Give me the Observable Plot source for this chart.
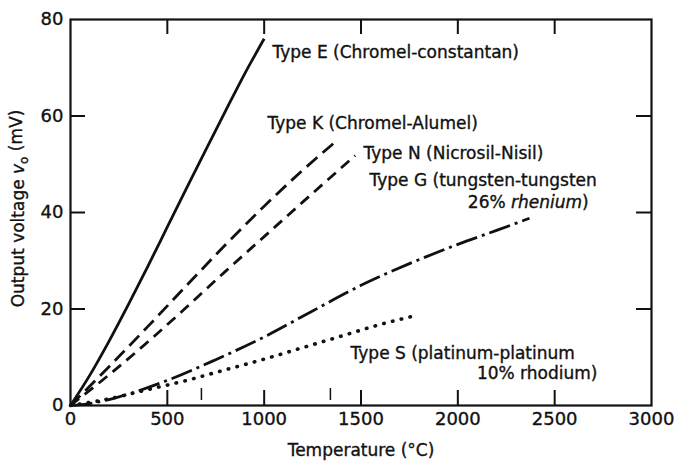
<!DOCTYPE html>
<html><head><meta charset="utf-8">
<script src="https://cdn.jsdelivr.net/npm/d3@7"></script>
<script src="https://cdn.jsdelivr.net/npm/@observablehq/plot@0.6"></script>
<style>body{margin:0;background:#fff} svg{display:block} svg text{stroke:#111;stroke-width:0.35px}</style>
</head><body><div id="chart"></div>
<script>
// Temperatures (°C) and output voltages (mV)
const typeE_T = [0, 100, 200, 300, 400, 500, 600, 700, 800, 900, 1000];
const typeE_V = [0, 6.3, 13.4, 21.0, 28.9, 37.0, 45.1, 53.1, 61.0, 68.8, 76.0];
const typeK_T = [0, 200, 400, 600, 800, 1000, 1200, 1375];
const typeK_V = [0, 8.1, 16.4, 24.9, 33.3, 41.3, 48.8, 54.9];
const typeN_T = [0, 200, 400, 600, 800, 1000, 1200, 1470];
const typeN_V = [0, 6.4, 13.2, 20.4, 27.8, 35.0, 42.2, 51.8];
const typeG_T = [0, 100, 250, 500, 750, 1000, 1250, 1500, 1750, 2000, 2200, 2370];
const typeG_V = [0, 0.4, 1.8, 5.2, 9.5, 14.2, 19.6, 24.9, 29.4, 33.4, 36.3, 38.8];
const typeS_T = [0, 200, 400, 600, 800, 1000, 1200, 1400, 1600, 1790];
const typeS_V = [0, 1.4, 3.3, 5.2, 7.4, 9.6, 12.0, 14.4, 16.8, 18.7];

const seriesNames = ["E", "K", "N", "G", "S"];
const xTickValues = [0, 500, 1000, 1500, 2000, 2500, 3000];
const yTickValues = [0, 20, 40, 60, 80];
const xInnerTicks = [500, 1000, 1500, 2000, 2500];
const yInnerTicks = [20, 40, 60];
const markTemps = [676, 1342];

// curve labels (anchored in data units)
const labelText = [
  "Type E (Chromel-constantan)",
  "Type K (Chromel-Alumel)",
  "Type N (Nicrosil-Nisil)",
  "Type G (tungsten-tungsten",
  "26% rhenium)",
  "Type S (platinum-platinum",
  "10% rhodium)"
];
const labelX = [1043, 1017, 1513, 1544, 2676, 1446, 2721];
const labelY = [73.2, 58.4, 52.2, 46.6, 42.1, 10.8, 6.6];
const labelAlign = ["start", "start", "start", "start", "end", "start", "end"];

const toRows = (T, V, name) => T.map((t, i) => ({t, v: V[i], name}));
const rows = {
  E: toRows(typeE_T, typeE_V, "E"),
  K: toRows(typeK_T, typeK_V, "K"),
  N: toRows(typeN_T, typeN_V, "N"),
  G: toRows(typeG_T, typeG_V, "G"),
  S: toRows(typeS_T, typeS_V, "S")
};
const labels = labelText.map((s, i) => ({s, x: labelX[i], y: labelY[i], a: labelAlign[i]}));

const W = 676, H = 469;
const mL = 70, mR = 25, mT = 19, mB = 64;
const innerW = W - mL - mR, innerH = H - mT - mB;
const tick = 15;
const ink = "#111";
const font = "DejaVu Sans";
const fs = 17;
const tfs = 18;

const lineStyle = {
  E: {dash: null, w: 2.8},
  K: {dash: "14,7", w: 2.8},
  N: {dash: "11,7", w: 2.8},
  G: {dash: "22,5,3,5", w: 2.8},
  S: {dash: "0.5,8.5", w: 3.6}
};

const chart = Plot.plot({
  width: W, height: H,
  marginLeft: mL, marginRight: mR, marginTop: mT, marginBottom: mB,
  style: {fontFamily: font, fontSize: fs + "px", color: ink, background: "#fff"},
  x: {domain: [0, 3000], ticks: xTickValues, tickFormat: d => String(d)},
  y: {domain: [0, 80], ticks: yTickValues, tickFormat: d => String(d)},
  marks: [
    Plot.axisX(xTickValues, {tickSize: 0, tickPadding: 7, fontSize: tfs, label: null, tickFormat: d => String(d)}),
    Plot.axisY(yTickValues, {tickSize: 0, tickPadding: 7, fontSize: tfs, label: null, tickFormat: d => String(d)}),
    Plot.frame({stroke: ink, strokeWidth: 2.2}),
    Plot.tickX(xInnerTicks, {x: d => d, insetTop: innerH - tick, stroke: ink, strokeWidth: 2}),
    Plot.tickX(xInnerTicks, {x: d => d, insetBottom: innerH - tick, stroke: ink, strokeWidth: 2}),
    Plot.tickY(yInnerTicks, {y: d => d, insetRight: innerW - tick, stroke: ink, strokeWidth: 2}),
    Plot.tickY(yInnerTicks, {y: d => d, insetLeft: innerW - tick, stroke: ink, strokeWidth: 2}),
    Plot.tickX(markTemps, {x: d => d, insetTop: innerH - 17, insetBottom: 5, stroke: ink, strokeWidth: 1.5}),
    ...seriesNames.map(n => Plot.line(rows[n], {
      x: "t", y: "v", stroke: ink, strokeWidth: lineStyle[n].w,
      strokeDasharray: lineStyle[n].dash, strokeLinecap: n === "S" ? "round" : "butt",
      curve: "monotone-x"
    })),
    Plot.text(labels.filter(d => d.a === "start"), {x: "x", y: "y", text: "s", textAnchor: "start", fontSize: fs, fill: ink}),
    Plot.text(labels.filter(d => d.a === "end"), {x: "x", y: "y", text: "s", textAnchor: "end", fontSize: fs, fill: ink}),
    Plot.text(["Temperature (°C)"], {frameAnchor: "bottom", text: d => d, textAnchor: "middle", lineAnchor: "middle", dy: 45, fontSize: fs, fill: ink}),
    Plot.text(["Output voltage vo (mV)"], {frameAnchor: "left", text: d => d, textAnchor: "middle", lineAnchor: "middle", rotate: -90, dx: -52, dy: -4, fontSize: fs, fill: ink})
  ]
});

const svg = d3.select(chart);
svg.selectAll("text").each(function() {
  const el = d3.select(this);
  const t = el.text();
  if (t === "26% rhenium)") {
    el.text(null);
    el.append("tspan").text("26% ");
    el.append("tspan").attr("font-style", "italic").text("rhenium");
    el.append("tspan").text(")");
  }
  if (t === "Output voltage vo (mV)") {
    el.text(null);
    el.append("tspan").text("Output voltage ");
    el.append("tspan").attr("font-style", "italic").text("v");
    el.append("tspan").attr("font-size", 12).attr("dy", "0.35em").text("o");
    el.append("tspan").attr("dy", "-0.35em").text(" (mV)");
  }
});
document.getElementById("chart").appendChild(chart);
</script>
</body></html>
